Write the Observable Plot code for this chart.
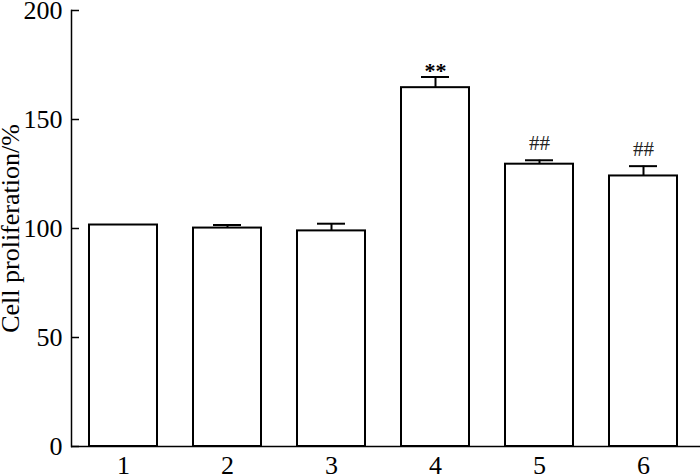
<!DOCTYPE html>
<html>
<head>
<meta charset="utf-8">
<script src="https://cdn.jsdelivr.net/npm/d3@7"></script>
<script src="https://cdn.jsdelivr.net/npm/@observablehq/plot@0.6"></script>
<style>
  html, body { margin: 0; padding: 0; background: #fff; }
</style>
</head>
<body>
<div id="chart"></div>
<script>
const groups = ["1", "2", "3", "4", "5", "6"];
const means = [101.6, 100.2, 98.9, 164.6, 129.5, 124.1];
const errors = [0, 1.4, 3.3, 4.9, 1.8, 4.5];
const marks = ["", "", "", "**", "##", "##"];
const yTicks = [0, 50, 100, 150, 200];
const yLabel = "Cell proliferation/%";

const data = groups.map((g, i) => ({group: g, mean: means[i], err: errors[i], top: means[i] + errors[i], mark: marks[i]}));
const withErr = data.filter(d => d.err > 0);
const stars = data.filter(d => d.mark === "**");
const hashes = data.filter(d => d.mark === "##");

const chart = Plot.plot({
  width: 700,
  height: 476,
  marginLeft: 71,
  marginRight: 0,
  marginTop: 10,
  marginBottom: 30,
  style: {fontFamily: "'Liberation Serif', 'Times New Roman', serif", fontSize: "26px", background: "#fff", color: "#000"},
  x: {domain: groups, range: [69, 696], paddingInner: 0.35, paddingOuter: 0.175},
  y: {domain: [0, 200]},
  marks: [
    Plot.barY(data, {x: "group", y: "mean", fill: "#fff", stroke: "#000", strokeWidth: 2}),
    Plot.ruleX(withErr, {x: "group", y1: "mean", y2: "top", stroke: "#000", strokeWidth: 2}),
    Plot.tickY(withErr, {x: "group", y: "top", stroke: "#000", strokeWidth: 2, insetLeft: 20, insetRight: 20}),
    Plot.text(stars, {x: "group", y: "top", text: "mark", dy: -6, fontSize: 22, fontWeight: "bold", fill: "#000"}),
    Plot.text(hashes, {x: "group", y: "top", text: "mark", dy: -17, fontSize: 21, fill: "#222"}),
    Plot.ruleY([0], {stroke: "#000", strokeWidth: 1.5}),
    Plot.frame({anchor: "left", stroke: "#000", strokeWidth: 1.5}),
    Plot.axisX({tickSize: 0, tickPadding: 9, fontSize: 26, label: null}),
    Plot.axisY({ticks: yTicks, tickSize: -8, tickPadding: 17, fontSize: 26, strokeWidth: 1.5,
      label: yLabel, labelAnchor: "center", labelArrow: "none", labelOffset: 71})
  ]
});
document.getElementById("chart").appendChild(chart);
</script>
</body>
</html>
